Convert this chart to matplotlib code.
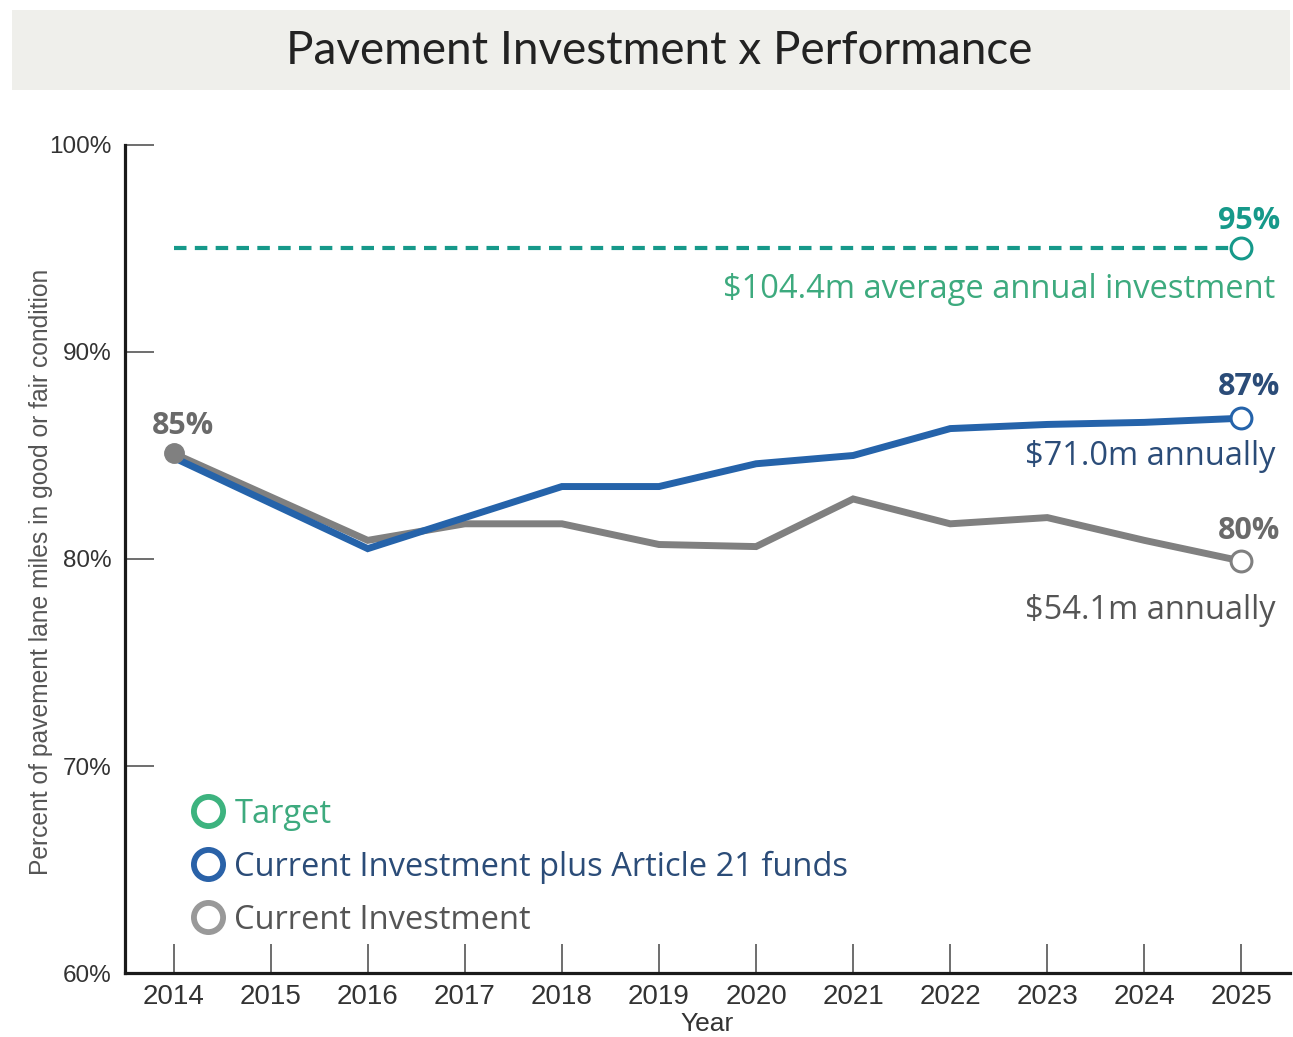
import matplotlib
matplotlib.use('Agg')
from matplotlib import pyplot as plt
from matplotlib.lines import Line2D
from matplotlib.patches import Rectangle

# data
years = [2014, 2015, 2016, 2017, 2018, 2019, 2020, 2021, 2022, 2023, 2024, 2025]
article21 = [84.9, 82.7, 80.5, 82.0, 83.5, 83.5, 84.6, 85.0, 86.3, 86.5, 86.6, 86.8]
current = [85.1, 83.0, 80.9, 81.7, 81.7, 80.7, 80.6, 82.9, 81.7, 82.0, 80.9, 79.9]
target_years = [2014, 2025]
target = [95, 95]
y_ticks = [60, 70, 80, 90, 100]

TEAL = '#16998a'
TEAL_TXT = '#3daa7e'
BLUE = '#2563aa'
BLUE_TXT = '#2b4c78'
GRAY = '#808080'
GRAY_TXT = '#555555'

narrow = ['Liberation Sans', 'DejaVu Sans']
sans = ['Open Sans', 'DejaVu Sans']

fig = plt.figure(figsize=(12.93, 10.37), dpi=100)
ax = fig.add_axes([0.0967, 0.0617, 0.901, 0.7985])

# title box
fig.patches.append(Rectangle((0.0093, 0.913), 0.988, 0.077, transform=fig.transFigure,
                             facecolor='#efefeb', edgecolor='none', zorder=0))
fig.text(0.51, 0.951, 'Pavement Investment x Performance', ha='center', va='center',
         fontsize=33, family=['Lato', 'DejaVu Sans'], color='#222222')

# lines
ax.plot(target_years, target, color=TEAL, lw=3, dashes=(3.0, 2.0), zorder=2)
ax.plot(years, current, color=GRAY, lw=5, solid_joinstyle='miter', zorder=3)
ax.plot(years, article21, color=BLUE, lw=5, solid_joinstyle='miter', zorder=4)
ax.plot(years[0], current[0], 'o', color=GRAY, ms=14, zorder=5)

# end markers
for vals, c in [(target, TEAL), (article21, BLUE), (current, GRAY)]:
    ax.plot(years[-1], vals[-1], 'o', ms=15, mfc='white', mec=c, mew=2.2, zorder=6)

# annotations
ax.text(2025.4, 95.6, '95%', ha='right', va='bottom', fontsize=22, fontweight='bold',
        family=sans, color=TEAL)
ax.text(2025.35, 93.0, '$104.4m average annual investment', ha='right', va='center',
        fontsize=23.5, family=sans, color=TEAL_TXT)
ax.text(2025.4, 87.6, '87%', ha='right', va='bottom', fontsize=22, fontweight='bold',
        family=sans, color=BLUE_TXT)
ax.text(2025.35, 84.95, '$71.0m annually', ha='right', va='center',
        fontsize=23.5, family=sans, color=BLUE_TXT)
ax.text(2025.4, 80.65, '80%', ha='right', va='bottom', fontsize=22, fontweight='bold',
        family=sans, color='#6a6a6a')
ax.text(2025.35, 77.5, '$54.1m annually', ha='right', va='center',
        fontsize=23.5, family=sans, color=GRAY_TXT)
ax.text(years[0] + 0.1, current[0] + 0.6, '85%', ha='center', va='bottom', fontsize=22,
        fontweight='bold', family=sans, color='#6a6a6a')

# legend
handles = [Line2D([], [], ls='none', marker='o', ms=21, mfc='none', mec=c, mew=4.2)
           for c in ['#3db37f', '#2a62a8', '#999999']]
leg = ax.legend(handles, ['Target', 'Current Investment plus Article 21 funds', 'Current Investment'],
                loc='center left', bbox_to_anchor=(0.0575, 0.128), frameon=False,
                prop={'family': sans, 'size': 23.5}, handlelength=1.0, handletextpad=0.3,
                labelspacing=0.61, borderaxespad=0, borderpad=0)
for t, c in zip(leg.get_texts(), [TEAL_TXT, BLUE_TXT, GRAY_TXT]):
    t.set_color(c)

# axes
ax.set_xlim(2013.5, 2025.5)
ax.set_ylim(60, 100)
ax.set_xticks(years)
ax.set_yticks(y_ticks)
ax.set_yticklabels(['%d%%' % v for v in y_ticks])
ax.spines['top'].set_visible(False)
ax.spines['right'].set_visible(False)
for s in ['left', 'bottom']:
    ax.spines[s].set_linewidth(2.3)
    ax.spines[s].set_color('#1a1a1a')
ax.tick_params(axis='both', direction='in', length=21, width=1.2, color='#555555',
               labelcolor='#333333')
ax.tick_params(axis='x', pad=8)
ax.tick_params(axis='y', pad=10)
for lab in ax.get_xticklabels():
    lab.set_family(narrow)
    lab.set_fontsize(20)
for lab in ax.get_yticklabels():
    lab.set_family(narrow)
    lab.set_fontsize(17.5)
ax.set_xlabel('Year', family=narrow, fontsize=19, color='#333333', labelpad=1)
ax.set_ylabel('Percent of pavement lane miles in good or fair condition', family=narrow,
              fontsize=17.7, color=GRAY_TXT)
ax.yaxis.set_label_coords(-0.062, 0.484)

fig.savefig('out.png', dpi=100)
